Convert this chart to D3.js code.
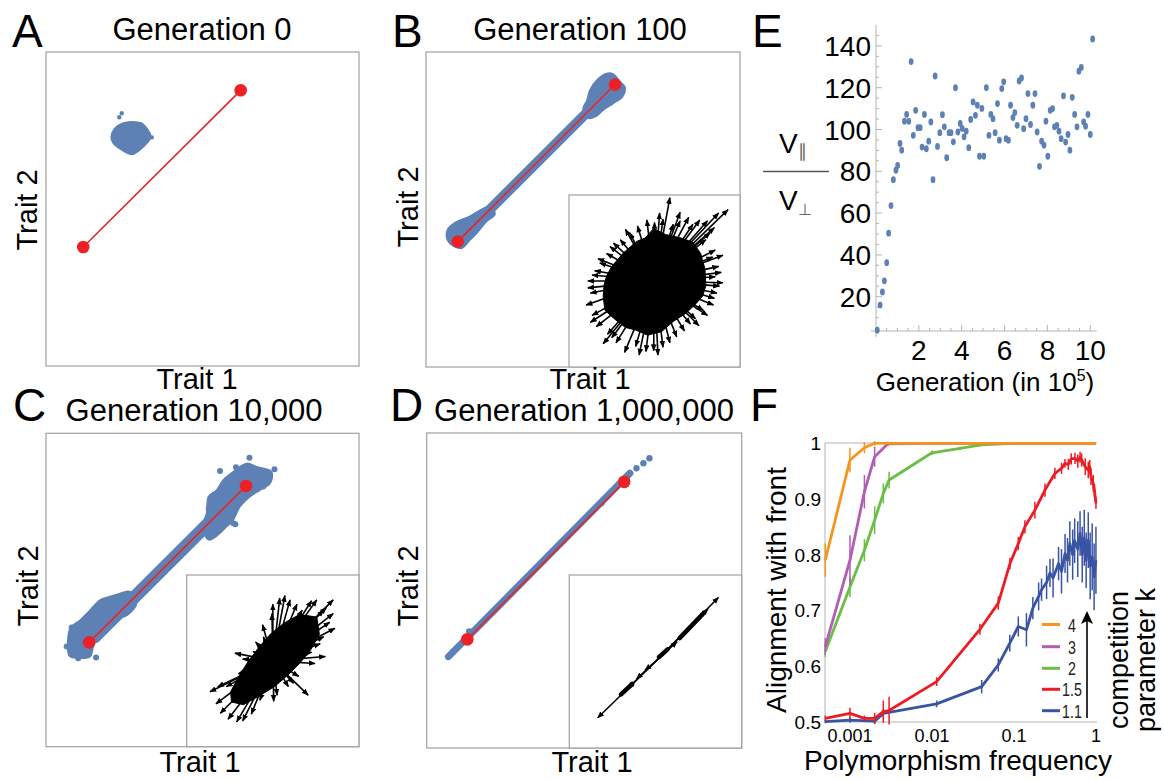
<!DOCTYPE html>
<html>
<head>
<meta charset="utf-8">
<script src="https://cdn.jsdelivr.net/npm/d3@7"></script>
<style>
body { margin: 0; background: #fff; }
svg { display: block; }
text { font-family: "Liberation Sans", Arial, sans-serif; fill: #000; }
</style>
</head>
<body>
<svg id="fig" width="1164" height="781"></svg>
<script>
// ---- panels A-D: trait space, both traits in 0..10 units
var frontA = [[1.19, 3.79], [6.22, 8.78]];
var frontB = [[1.01, 3.98], [6.02, 8.97]];
var frontC = [[1.38, 3.33], [6.39, 8.32]];
var frontD = [[1.29, 3.45], [6.27, 8.45]];

// outlines of the population clouds
var cloudA = [[[2.74,7.78],[3.06,7.73],[3.22,7.57],[3.35,7.30],[3.22,7.09],[3.00,6.88],[2.74,6.74],
  [2.42,6.88],[2.15,7.09],[2.08,7.30],[2.20,7.57],[2.45,7.73]]];
var dotsA = [[2.42,8.05],[2.34,7.92],[3.38,7.28]];

var cloudB = [
  [[0.68,4.35],[0.92,4.58],[1.40,4.79],[1.72,4.98],[2.04,5.10],[2.20,4.85],[1.93,4.62],[1.61,4.24],
   [1.40,4.03],[1.14,3.77],[0.87,3.84],[0.68,4.03]],
  [[5.00,8.20],[5.12,8.45],[5.22,8.79],[5.44,9.11],[5.75,9.32],[5.97,9.30],[6.18,9.06],[6.34,8.88],
   [6.26,8.58],[5.97,8.37],[5.65,8.16],[5.40,7.95],[5.15,7.90]]];
var bandB = [[1.01, 3.98], [6.02, 8.97]];

var cloudC = [
  [[0.71,2.98],[0.77,3.78],[1.09,4.04],[1.41,4.36],[1.72,4.68],[2.04,4.79],[2.36,4.89],[2.70,4.95],
   [2.90,4.60],[2.60,4.20],[2.15,4.04],[1.72,3.72],[1.51,3.19],[1.41,2.87],[1.09,2.82],[0.77,2.87]],
  [[5.00,7.00],[5.13,7.45],[5.19,7.98],[5.45,8.19],[5.66,8.51],[5.98,8.77],[6.41,9.04],[6.73,8.93],
   [7.21,8.77],[7.16,8.40],[6.84,8.19],[6.52,7.98],[6.20,7.66],[5.98,7.23],[5.77,7.02],[5.45,6.72],[5.20,6.60]]];
var bandC = [[1.55, 3.50], [6.20, 8.13]];
var dotsC = [[6.50,9.22],[6.07,8.92],[5.56,8.80],[7.10,8.46],[5.98,7.13],[0.82,3.80],[1.03,2.82],
  [2.20,4.10],[6.62,8.51],[6.94,8.30],[7.30,8.85],[0.66,3.20],[1.60,2.85],[5.20,7.60],[2.45,4.55],[6.05,7.10]];

var bandD = [[0.69, 2.90], [6.45, 8.72]];
var dotsD = [[6.66,8.88],[6.88,9.04],[7.07,9.20],[0.84,3.06],[5.55,7.78],[1.35,3.70]];

// ---- insets: direction of selection gradients, -1..1 units
var coreB = [[-0.01,0.61],[0.13,0.54],[0.31,0.50],[0.45,0.45],[0.54,0.32],[0.59,0.14],[0.60,-0.06],
  [0.56,-0.18],[0.47,-0.28],[0.36,-0.38],[0.22,-0.47],[0.08,-0.59],[-0.08,-0.63],[-0.22,-0.57],
  [-0.34,-0.54],[-0.47,-0.44],[-0.58,-0.34],[-0.60,-0.18],[-0.59,-0.05],[-0.56,0.06],[-0.50,0.17],
  [-0.36,0.33],[-0.21,0.46],[-0.11,0.50]];
var arrowsB = [[0.18,0.97],[0.86,0.83],[0.75,0.79],[0.53,0.71],[0.65,0.56],[0.71,0.36],[0.75,0.17],
  [0.71,0.05],[0.73,-0.14],[0.69,-0.28],[0.57,-0.34],[0.42,-0.50],[0.26,-0.65],[0.10,-0.77],
  [-0.01,-0.81],[-0.35,-0.83],[-0.60,-0.73],[-0.68,-0.53],[-0.73,-0.40],[-0.75,-0.14],[-0.73,0.07],
  [-0.64,0.21],[-0.56,0.32],[-0.40,0.48],[-0.29,0.56],[-0.09,0.71],[0.06,0.79],[0.40,0.74],
  [0.80,-0.02],[0.52,-0.52],[-0.18,-0.86],[-0.50,-0.66],[-0.78,0.0],[-0.52,0.40],[0.30,0.80],
  [0.30,0.70],[0.45,0.66],[0.60,0.48],[0.68,0.28],[0.78,0.10],[0.76,-0.06],[0.70,-0.20],[0.62,-0.40],
  [0.48,-0.44],[0.35,-0.58],[0.18,-0.72],[0.04,-0.86],[-0.10,-0.82],[-0.22,-0.76],[-0.45,-0.72],
  [-0.55,-0.62],[-0.75,-0.48],[-0.80,-0.28],[-0.78,-0.08],[-0.70,0.12],[-0.66,0.26],[-0.48,0.44],
  [-0.34,0.60],[-0.20,0.64],[0.0,0.68],[0.10,0.72],[0.22,0.66],[0.62,0.70],[0.70,0.62],[0.80,0.30]];

var coreC = [[0.51,0.51],[0.31,0.54],[0.13,0.44],[-0.03,0.31],[-0.16,0.16],[-0.28,0.00],[-0.39,-0.17],
  [-0.49,-0.36],[-0.48,-0.48],[-0.34,-0.51],[-0.16,-0.41],[0.02,-0.30],[0.17,-0.17],[0.31,-0.03],
  [0.44,0.13],[0.54,0.31]];
var arrowsC = [[0.70,0.71],[0.72,0.38],[0.59,0.28],[0.61,0.05],[0.49,-0.03],[0.41,-0.40],[0.24,-0.26],
  [0.08,-0.11],[0.01,-0.47],[-0.15,-0.46],[-0.42,-0.71],[-0.61,-0.61],[-0.73,-0.36],[-0.54,-0.30],
  [-0.44,0.09],[-0.23,0.11],[-0.11,0.28],[-0.01,0.55],[0.08,0.73],[0.20,0.71],[0.34,0.59],
  [0.51,0.71],[0.59,0.59],[0.70,0.55],
  [0.45,0.70],[0.62,0.62],[0.66,0.45],[0.55,0.20],[0.45,0.10],[0.30,-0.18],[0.18,-0.30],[0.05,-0.40],
  [-0.25,-0.62],[-0.35,-0.70],[-0.52,-0.68],[-0.66,-0.50],[-0.64,-0.30],[-0.40,-0.15],[-0.35,0.02],
  [-0.20,0.22],[-0.12,0.42],[0.0,0.66],[0.14,0.76],[0.28,0.66]];

var arrowsD = [[0.73,0.74],[0.61,0.61],[0.25,0.23],[-0.12,-0.10],[-0.22,-0.20],[-0.32,-0.31],[-0.67,-0.65]];
var thickD = [[[0.28,0.27],[0.55,0.55]], [[-0.40,-0.38],[-0.27,-0.26]], [[0.04,0.05],[0.14,0.14]]];

// ---- panel E: V_par / V_perp over generations (in 10^5)
var eGen = [0.06,0.19,0.30,0.39,0.50,0.59,0.70,0.81,0.93,1.01,1.12,1.20,1.33,1.43,1.53,1.64,1.74,1.85,
  1.96,2.06,2.15,2.26,2.35,2.46,2.56,2.66,2.76,2.87,2.98,3.10,3.19,3.30,3.41,3.50,3.61,3.71,3.82,3.93,
  4.02,4.11,4.21,4.33,4.42,4.53,4.64,4.73,4.83,4.94,5.03,5.15,5.27,5.36,5.46,5.56,5.67,5.76,5.87,5.96,
  6.07,6.18,6.28,6.39,6.48,6.59,6.68,6.79,6.89,7.00,7.09,7.21,7.32,7.42,7.52,7.63,7.73,7.84,7.93,8.02,
  8.13,8.24,8.33,8.44,8.54,8.64,8.75,8.85,8.96,9.05,9.16,9.27,9.38,9.47,9.58,9.69,9.78,9.89,10.00,10.11];
var eRatio = [4.0,16,22.3,27.6,36.3,50.4,63.6,76,80.5,82.8,93.3,90.1,104,107.2,103.9,132.5,97.2,109.2,
  100.9,100.9,91.6,107.2,90.8,94.4,103.6,76,125.6,91.9,98.5,107.1,101.3,86.5,98.5,98.5,94.1,120,98.8,102.9,
  100.5,96.5,99.2,91.3,104.8,113.2,106.8,111.6,87.2,110.1,87.2,120,97.2,107.2,105.2,98.5,112.4,94.9,119.6,122.8,
  95.6,94.9,111.6,105.7,108.1,102,123.2,124.7,100.4,105.2,117.2,102.4,111.6,117.2,98.8,82.4,94.4,92.5,104,87.2,
  109.2,110,101.3,102,99.2,95.6,116.1,94,97.6,90.1,115.4,107.2,101.3,127.9,129.7,103.6,101.6,107.2,97.6,143.3];
var eYTicks = [20, 40, 60, 80, 100, 120, 140];
var eXTicks = [2, 4, 6, 8, 10];

// ---- panel F: alignment with front vs polymorphism frequency, [freq, mean, error]
var kLabels = ["4", "3", "2", "1.5", "1.1"];
var kColors = ["#f7941d", "#b35cb5", "#6abd45", "#ed1c24", "#3a54a4"];
var k4 = [[0.0005,0.79,0.03],[0.001,0.97,0.022],[0.0015,0.992,0.01],[0.002,1.0,0.004],[0.003,1.0,0.002],
  [0.01,1.0,0.001],[0.1,1.0,0.001],[0.3,1.0,0.001],[1.0,1.0,0]];
var k3 = [[0.0005,0.635,0.015],[0.001,0.79,0.045],[0.0015,0.913,0.03],[0.002,0.976,0.018],[0.0029,0.999,0.004],
  [0.01,1.0,0.001],[0.1,1.0,0],[1.0,1.0,0]];
var k2 = [[0.0005,0.626,0.01],[0.001,0.742,0.018],[0.0015,0.808,0.02],[0.002,0.862,0.025],[0.00255,0.91,0.018],
  [0.003,0.934,0.015],[0.01,0.983,0.004],[0.022,0.991,0.003],[0.04,0.997,0.002],[0.1,1.0,0.001],[1.0,1.0,0]];
var k15 = [[0.0005,0.506,0.005],[0.001,0.515,0.01],[0.0015,0.506,0.005],[0.002,0.506,0.01],[0.00255,0.518,0.02],
  [0.003,0.52,0.025],[0.0114,0.572,0.008],[0.0385,0.666,0.01],[0.0644,0.713,0.012],[0.0894,0.784,0.01],
  [0.113,0.82,0.012],[0.136,0.85,0.012],[0.18,0.88,0.015],[0.239,0.916,0.012],[0.316,0.946,0.01],
  [0.38,0.955,0.01],[0.419,0.964,0.008],[0.46,0.962,0.01],[0.5,0.972,0.01],[0.555,0.973,0.01],[0.6,0.968,0.012],
  [0.64,0.975,0.01],[0.67,0.97,0.012],[0.74,0.958,0.015],[0.806,0.952,0.015],[0.84,0.958,0.012],
  [0.87,0.94,0.015],[0.927,0.928,0.015],[0.96,0.915,0.012],[1.0,0.892,0.01]];
var k11 = [[0.0005,0.5,0.003],[0.001,0.503,0.005],[0.002,0.501,0.005],[0.00255,0.515,0.008],[0.0114,0.532,0.006],
  [0.0404,0.563,0.012],[0.0644,0.602,0.012],[0.089,0.641,0.015],[0.113,0.671,0.018],[0.142,0.665,0.03],
  [0.17,0.704,0.02],[0.2,0.725,0.025],[0.217,0.737,0.02],[0.25,0.75,0.03],[0.275,0.767,0.025],[0.3,0.758,0.035],
  [0.35,0.784,0.03],[0.38,0.77,0.04],[0.42,0.802,0.035],[0.45,0.79,0.04],[0.48,0.82,0.04],[0.52,0.8,0.045],
  [0.55,0.825,0.04],[0.6,0.81,0.05],[0.64,0.838,0.04],[0.68,0.8,0.05],[0.72,0.83,0.05],[0.76,0.79,0.05],
  [0.806,0.826,0.05],[0.85,0.78,0.06],[0.9,0.796,0.06],[0.95,0.76,0.06],[1.0,0.79,0.06]];
var kSeries = [k11, k15, k2, k3, k4]; // drawn lowest first
var kSeriesColors = ["#3a54a4", "#ed1c24", "#6abd45", "#b35cb5", "#f7941d"];
var fYTicks = [0.5, 0.6, 0.7, 0.8, 0.9, 1];
var fXTicks = [0.001, 0.01, 0.1, 1];
var fXLabels = ["0.001", "0.01", "0.1", "1"];

var svg = d3.select("#fig");
var blue = "#5e81b5", red = "#ec2127", frame = "#a0a0a0";

// arrow head used in the insets
svg.append("defs").append("marker")
    .attr("id", "head")
    .attr("viewBox", "0 0 10 10")
    .attr("refX", 9).attr("refY", 5)
    .attr("markerWidth", 7).attr("markerHeight", 7)
    .attr("markerUnits", "userSpaceOnUse")
    .attr("orient", "auto")
    .append("path").attr("d", "M0,1 L10,5 L0,9 z").attr("fill", "#000");

function letter(t, x, y) {
    svg.append("text").attr("x", x).attr("y", y).style("font-size", "46px").text(t);
}

// one trait-space panel
function traitPanel(p) {
    var b = p.box;
    var x = d3.scaleLinear().domain([0, 10]).range([b.x, b.x + b.w]);
    var y = d3.scaleLinear().domain([0, 10]).range([b.y + b.h, b.y]);
    var g = svg.append("g");

    g.append("rect").attr("x", b.x).attr("y", b.y).attr("width", b.w).attr("height", b.h)
        .attr("fill", "#fff").attr("stroke", frame).attr("stroke-width", 1.2);

    var outline = d3.line().x(function(d) { return x(d[0]); }).y(function(d) { return y(d[1]); })
        .curve(d3.curveCatmullRomClosed);
    g.selectAll(".cloud").data(p.cloud || []).enter().append("path")
        .attr("d", outline)
        .attr("fill", blue).attr("stroke", blue).attr("stroke-width", 1.5).attr("stroke-linejoin", "round");
    if (p.band) {
        g.append("line")
            .attr("x1", x(p.band[0][0])).attr("y1", y(p.band[0][1]))
            .attr("x2", x(p.band[1][0])).attr("y2", y(p.band[1][1]))
            .attr("stroke", blue).attr("stroke-width", p.bandW).attr("stroke-linecap", "round");
    }
    g.selectAll(".dot").data(p.dots || []).enter().append("circle")
        .attr("cx", function(d) { return x(d[0]); }).attr("cy", function(d) { return y(d[1]); })
        .attr("r", p.dotR || 3).attr("fill", blue);

    g.append("line")
        .attr("x1", x(p.front[0][0])).attr("y1", y(p.front[0][1]))
        .attr("x2", x(p.front[1][0])).attr("y2", y(p.front[1][1]))
        .attr("stroke", red).attr("stroke-width", 1.6);
    g.selectAll(".end").data(p.front).enter().append("circle")
        .attr("cx", function(d) { return x(d[0]); }).attr("cy", function(d) { return y(d[1]); })
        .attr("r", 6.3).attr("fill", red);

    if (p.inset) {
        var ib = p.inset;
        var u = d3.scaleLinear().domain([-1, 1]).range([ib.x, ib.x + ib.w]);
        var v = d3.scaleLinear().domain([-1, 1]).range([ib.y + ib.h, ib.y]);
        g.append("rect").attr("x", ib.x).attr("y", ib.y).attr("width", ib.w).attr("height", ib.h)
            .attr("fill", "#fff").attr("stroke", frame).attr("stroke-width", 1.2);
        if (p.core) {
            g.append("path")
                .attr("d", d3.line().x(function(d) { return u(d[0]); }).y(function(d) { return v(d[1]); })
                    .curve(d3.curveLinearClosed)(p.core))
                .attr("fill", "#000").attr("stroke", "#000").attr("stroke-width", 1)
                .attr("stroke-linejoin", "miter");
        }
        g.selectAll(".arr").data(p.arrows).enter().append("line")
            .attr("x1", u(0)).attr("y1", v(0))
            .attr("x2", function(d) { return u(d[0]); }).attr("y2", function(d) { return v(d[1]); })
            .attr("stroke", "#000").attr("stroke-width", 1.6)
            .attr("marker-end", "url(#head)");
        g.selectAll(".thick").data(p.thick || []).enter().append("line")
            .attr("x1", function(d) { return u(d[0][0]); }).attr("y1", function(d) { return v(d[0][1]); })
            .attr("x2", function(d) { return u(d[1][0]); }).attr("y2", function(d) { return v(d[1][1]); })
            .attr("stroke", "#000").attr("stroke-width", 4.5).attr("stroke-linecap", "round");
    }

    letter(p.letter, p.letterPos[0], p.letterPos[1]);
    svg.append("text").attr("x", p.titlePos[0]).attr("y", p.titlePos[1])
        .attr("text-anchor", "middle").style("font-size", "31px").text(p.title);
    svg.append("text").attr("x", p.t1Pos[0]).attr("y", p.t1Pos[1])
        .attr("text-anchor", "middle").style("font-size", "29px").text("Trait 1");
    svg.append("text")
        .attr("transform", "translate(" + p.t2Pos[0] + "," + p.t2Pos[1] + ") rotate(-90)")
        .attr("text-anchor", "middle").style("font-size", "29px").text("Trait 2");
}

traitPanel({ box: {x: 46, y: 52, w: 313, h: 314}, front: frontA, cloud: cloudA, dots: dotsA, dotR: 2.2,
    letter: "A", letterPos: [12, 47], title: "Generation 0", titlePos: [202, 40],
    t1Pos: [197, 389], t2Pos: [37, 210] });
traitPanel({ box: {x: 426, y: 52, w: 314, h: 315}, front: frontB, cloud: cloudB, band: bandB, bandW: 10,
    inset: {x: 569, y: 195, w: 171, h: 172}, core: coreB, arrows: arrowsB,
    letter: "B", letterPos: [392, 47], title: "Generation 100", titlePos: [580, 40],
    t1Pos: [590, 389], t2Pos: [418, 207] });
traitPanel({ box: {x: 46, y: 433.3, w: 313, h: 313.4}, front: frontC, cloud: cloudC, band: bandC, bandW: 13,
    dots: dotsC, inset: {x: 186.7, y: 575, w: 172.3, h: 171.7}, core: coreC, arrows: arrowsC,
    letter: "C", letterPos: [13, 421], title: "Generation 10,000", titlePos: [194, 421],
    t1Pos: [200, 772], t2Pos: [38, 586] });
traitPanel({ box: {x: 426.7, y: 433, w: 315, h: 315}, front: frontD, band: bandD, bandW: 7, dots: dotsD, dotR: 3.2,
    inset: {x: 569.3, y: 575, w: 172.4, h: 173}, arrows: arrowsD, thick: thickD,
    letter: "D", letterPos: [390, 421], title: "Generation 1,000,000", titlePos: [584, 421],
    t1Pos: [592, 772], t2Pos: [418, 586] });

// ---------- panel E
(function() {
    var x = d3.scaleLinear().domain([0, 10.3]).range([876, 1096.7]);
    var y = d3.scaleLinear().domain([3.6, 150]).range([331, 25]);
    var g = svg.append("g");
    var axisCol = "#b4b4b4";

    g.append("line").attr("x1", 876).attr("x2", 876).attr("y1", 25).attr("y2", 337)
        .attr("stroke", axisCol).attr("stroke-width", 1);
    g.append("line").attr("x1", 871).attr("x2", 1096.7).attr("y1", 331).attr("y2", 331)
        .attr("stroke", axisCol).attr("stroke-width", 1);

    // minor + major ticks pointing inwards
    var yMinor = d3.range(5, 150, 5);
    g.selectAll(".ym").data(yMinor).enter().append("line")
        .attr("x1", 876).attr("x2", function(d) { return d % 20 === 0 ? 882 : 879; })
        .attr("y1", function(d) { return y(d); }).attr("y2", function(d) { return y(d); })
        .attr("stroke", axisCol);
    var xMinor = d3.range(0.5, 10.3, 0.5);
    g.selectAll(".xm").data(xMinor).enter().append("line")
        .attr("y1", 331).attr("y2", function(d) { return d % 2 === 0 ? 325 : 328; })
        .attr("x1", function(d) { return x(d); }).attr("x2", function(d) { return x(d); })
        .attr("stroke", axisCol);

    g.selectAll(".yl").data(eYTicks).enter().append("text")
        .attr("x", 871).attr("y", function(d) { return y(d); }).attr("dy", "0.36em")
        .attr("text-anchor", "end").style("font-size", "28px").text(function(d) { return d; });
    g.selectAll(".xl").data(eXTicks).enter().append("text")
        .attr("x", function(d) { return x(d); }).attr("y", 360)
        .attr("text-anchor", "middle").style("font-size", "28px").text(function(d) { return d; });

    g.selectAll(".pt").data(eGen).enter().append("ellipse")
        .attr("cx", function(d) { return x(d); })
        .attr("cy", function(d, i) { return y(eRatio[i]); })
        .attr("rx", 2.4).attr("ry", 3.4).attr("fill", blue);

    // V_par / V_perp label
    g.append("line").attr("x1", 763).attr("x2", 829).attr("y1", 171.5).attr("y2", 171.5)
        .attr("stroke", "#555").attr("stroke-width", 1.5);
    var t1 = g.append("text").attr("x", 779).attr("y", 153).style("font-size", "28px");
    t1.append("tspan").text("V");
    t1.append("tspan").attr("dy", 4).style("font-size", "18px").style("fill", "#666").text("\u2225");
    var t2 = g.append("text").attr("x", 779).attr("y", 210).style("font-size", "28px");
    t2.append("tspan").text("V");
    t2.append("tspan").attr("dy", 5).style("font-size", "16px").style("fill", "#666").text("\u22A5");

    var xl = g.append("text").attr("x", 985).attr("y", 391).attr("text-anchor", "middle")
        .style("font-size", "26px");
    xl.append("tspan").text("Generation (in 10");
    xl.append("tspan").attr("dy", -10).style("font-size", "16px").text("5");
    xl.append("tspan").attr("dy", 10).text(")");

    letter("E", 752, 47);
})();

// ---------- panel F
(function() {
    var x = d3.scaleLog().domain([0.000496, 1.03]).range([825, 1097]);
    var y = d3.scaleLinear().domain([0.5, 1]).range([721.7, 443.3]);
    var g = svg.append("g");
    var axisCol = "#b4b4b4";

    g.append("line").attr("x1", 825).attr("x2", 825).attr("y1", 443).attr("y2", 722)
        .attr("stroke", axisCol);
    g.append("line").attr("x1", 825).attr("x2", 1097).attr("y1", 722).attr("y2", 722)
        .attr("stroke", axisCol);
    g.append("line").attr("x1", 825).attr("x2", 1097).attr("y1", 443).attr("y2", 443)
        .attr("stroke", axisCol);

    g.selectAll(".yl").data(fYTicks).enter().append("text")
        .attr("x", 821).attr("y", function(d) { return y(d); }).attr("dy", "0.36em")
        .attr("text-anchor", "end").style("font-size", "19px").text(function(d) { return d; });
    g.selectAll(".xl").data(fXTicks).enter().append("text")
        .attr("x", function(d) { return x(d); }).attr("y", 742)
        .attr("text-anchor", "middle").style("font-size", "18px")
        .text(function(d, i) { return fXLabels[i]; });

    var line = d3.line().x(function(d) { return x(d[0]); }).y(function(d) { return y(d[1]); });
    kSeries.forEach(function(s, i) {
        var col = kSeriesColors[i];
        g.append("path").attr("d", line(s)).attr("fill", "none")
            .attr("stroke", col).attr("stroke-width", 2.8).attr("stroke-linejoin", "round");
        g.selectAll(".eb" + i).data(s.filter(function(d) { return d[2] > 0; })).enter().append("line")
            .attr("x1", function(d) { return x(d[0]); }).attr("x2", function(d) { return x(d[0]); })
            .attr("y1", function(d) { return y(d[1] - d[2]); })
            .attr("y2", function(d) { return y(d[1] + d[2]); })
            .attr("stroke", col).attr("stroke-width", 1.5);
    });

    // legend
    var ly = [624.5, 646.7, 668.3, 689.3, 710.7];
    kLabels.forEach(function(k, i) {
        g.append("line").attr("x1", 1042).attr("x2", 1060).attr("y1", ly[i]).attr("y2", ly[i])
            .attr("stroke", kColors[i]).attr("stroke-width", 3);
        g.append("text").attr("transform", "translate(1072," + (ly[i] + 7) + ") scale(0.75,1)")
            .attr("text-anchor", "middle").style("font-size", "19px").style("fill", "#222").text(k);
    });
    g.append("line").attr("x1", 1087).attr("x2", 1087).attr("y1", 718).attr("y2", 620)
        .attr("stroke", "#000").attr("stroke-width", 1.6);
    g.append("path").attr("d", "M1087,611 L1081,624 L1087,621 L1093,624 Z").attr("fill", "#000");

    svg.append("text").attr("x", 958).attr("y", 770).attr("text-anchor", "middle")
        .style("font-size", "28px").text("Polymorphism frequency");
    svg.append("text").attr("transform", "translate(786,590) rotate(-90)")
        .attr("text-anchor", "middle").style("font-size", "28px").text("Alignment with front");
    svg.append("text").attr("transform", "translate(1128,660) rotate(-90)")
        .attr("text-anchor", "middle").style("font-size", "27px").text("competition");
    svg.append("text").attr("transform", "translate(1155,660) rotate(-90)")
        .attr("text-anchor", "middle").style("font-size", "27px").text("parameter k");

    letter("F", 750, 421);
})();
</script>
</body>
</html>
